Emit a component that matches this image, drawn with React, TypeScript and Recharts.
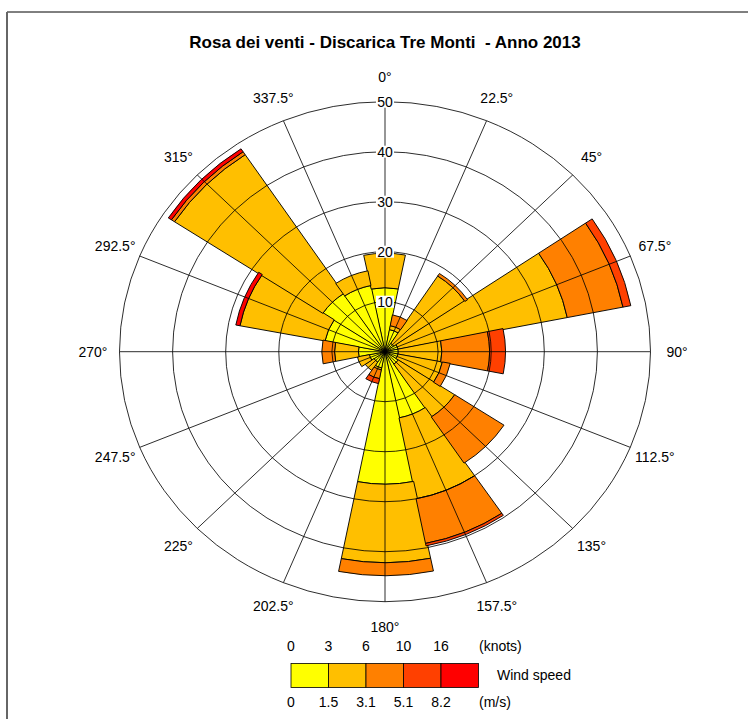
import React from 'react';
import { RadialBarChart, RadialBar, PolarGrid, PolarAngleAxis, PolarRadiusAxis, Sector } from 'recharts';

// ---- data ----
const directions = [0, 22.5, 45, 67.5, 90, 112.5, 135, 157.5, 180, 202.5, 225, 247.5, 270, 292.5, 315, 337.5];
const speedKeys = ['s0', 's1', 's2', 's3', 's4'];
const speedColors = ['#FFFF00', '#FFBF00', '#FF8000', '#FF4000', '#FF0000'];
// frequency (%) per speed class, stacked
const class0 = [12.8, 4.5, 2, 2.5, 2.5, 2.5, 3, 13.5, 26.5, 3.3, 2.5, 3, 5, 11.5, 14, 13.5];
const class1 = [6.9, 0.8, 16.1, 32.5, 8.2, 8.5, 12.7, 16.5, 15.7, 0.4, 2, 2.3, 4.5, 16.3, 33.4, 3];
const class2 = [0, 2.2, 0.6, 10.7, 9, 1.5, 11.1, 9.1, 2.6, 1.8, 0, 0, 2.4, 0, 0.7, 0];
const class3 = [0, 0, 0, 1.5, 3, 0, 0, 0.5, 0, 1.0, 0, 0, 0, 0, 0, 0];
const class4 = [0, 0, 0, 0, 0, 0, 0, 0, 0, 0, 0, 0, 0, 0.8, 0.7, 0];
const radiusTicks = [10, 20, 30, 40, 50];
const knotsTicks = ['0', '3', '6', '10', '16'];
const msTicks = ['0', '1.5', '3.1', '5.1', '8.2'];
const title = 'Rosa dei venti - Discarica Tre Monti  - Anno 2013';

const classes = [class0, class1, class2, class3, class4];
const data = directions.map((angle, i) => {
  const row: Record<string, any> = { angle };
  speedKeys.forEach((k, j) => { row[k] = classes[j][i]; });
  return row;
});

const SX = 1.062;
const CX = 385;
const CY = 351.7;
const FONT = '"Liberation Sans", Arial, Helvetica, sans-serif';

const AngleTick = (props: any) => {
  const { x, y, payload } = props;
  return (
    <text transform={`translate(${x},${y}) scale(${1 / SX},1)`} x={0} y={0} textAnchor="middle" dominantBaseline="central" fontSize={14} fontFamily={FONT} fill="#000">
      {`${payload.value}°`}
    </text>
  );
};

const RadiusTick = (props: any) => {
  const { x, y, payload } = props;
  return (
    <g transform={`translate(${x},${y}) scale(${1 / SX},1)`}>
      <rect x={-9} y={-6} width={18} height={12} fill="#fff" />
      <text x={0} y={0} textAnchor="middle" dominantBaseline="central" fontSize={14} fontFamily={FONT} fill="#000">
        {payload.value}
      </text>
    </g>
  );
};

// skip empty speed classes so they do not draw a doubled outline
const makeShape = (key: string) => (p: any) => {
  if (!p || !p.payload || !(p.payload[key] > 0)) return <g />;
  return (
    <Sector
      cx={p.cx}
      cy={p.cy}
      innerRadius={p.innerRadius}
      outerRadius={p.outerRadius}
      startAngle={p.startAngle}
      endAngle={p.endAngle}
      fill={p.fill}
      stroke="#000"
      strokeWidth={0.9}
    />
  );
};

const chartProps = {
  width: 750,
  height: 719,
  data,
  layout: 'centric' as const,
  cx: CX,
  cy: CY,
  innerRadius: 0,
  outerRadius: 250,
  startAngle: 90,
  endAngle: -270,
  barCategoryGap: 0,
  margin: { top: 0, right: 0, bottom: 0, left: 0 },
};

const layerStyle: React.CSSProperties = {
  position: 'absolute',
  left: 0,
  top: 0,
  width: 750,
  height: 719,
  transform: `scaleX(${SX})`,
  transformOrigin: `${CX}px ${CY}px`,
};

export default function App() {
  const boxX0 = 291;
  const boxW = 37.5;
  return (
    <div style={{ position: 'absolute', left: 0, top: 0, width: 750, height: 719, background: '#fff', overflow: 'hidden' }}>
      {/* bars */}
      <div style={layerStyle}>
        <RadialBarChart {...chartProps}>
          <PolarAngleAxis dataKey="angle" type="number" domain={[0, 360]} ticks={directions} tick={false} tickLine={false} axisLine={false} />
          <PolarRadiusAxis type="number" domain={[0, 50]} ticks={radiusTicks} angle={90} axisLine={false} tick={false} />
          {speedKeys.map((k, j) => (
            <RadialBar key={k} dataKey={k} stackId="w" fill={speedColors[j]} stroke="#000" strokeWidth={0.9} shape={makeShape(k)} isAnimationActive={false} />
          ))}
        </RadialBarChart>
      </div>
      {/* grid and labels drawn over the bars */}
      <div style={{ ...layerStyle, pointerEvents: 'none' }}>
        <RadialBarChart {...chartProps}>
          <PolarGrid gridType="circle" stroke="#000" strokeWidth={0.8} />
          <PolarAngleAxis dataKey="angle" type="number" domain={[0, 360]} ticks={directions} tick={(p: any) => <AngleTick {...p} />} tickLine={false} axisLine={false} tickSize={25} />
          <PolarRadiusAxis type="number" domain={[0, 50]} ticks={radiusTicks} angle={90} axisLine={false} tick={(p: any) => <RadiusTick {...p} />} />
          <RadialBar dataKey="s0" fill="none" stroke="none" isAnimationActive={false} />
        </RadialBarChart>
      </div>
      <svg width={750} height={719} style={{ position: 'absolute', left: 0, top: 0, pointerEvents: 'none' }}>
        <line x1={7} y1={12} x2={748} y2={12} stroke="#000" strokeWidth={1} />
        <line x1={7} y1={12} x2={7} y2={719} stroke="#666" strokeWidth={2} />
        <text x={385} y={42} textAnchor="middle" dominantBaseline="central" fontSize={17} fontWeight="bold" fontFamily={FONT} fill="#000" style={{ whiteSpace: 'pre' }}>{title}</text>
        {knotsTicks.map((t, i) => (
          <text key={'k' + i} x={boxX0 + i * boxW} y={646} textAnchor="middle" dominantBaseline="central" fontSize={14} fontFamily={FONT}>{t}</text>
        ))}
        <text x={479} y={646} dominantBaseline="central" fontSize={14} fontFamily={FONT}>(knots)</text>
        {speedColors.map((c, i) => (
          <rect key={'c' + i} x={boxX0 + i * boxW} y={663.5} width={boxW} height={24} fill={c} stroke="#000" strokeWidth={0.8} />
        ))}
        <text x={497} y={675} dominantBaseline="central" fontSize={14} fontFamily={FONT}>Wind speed</text>
        {msTicks.map((t, i) => (
          <text key={'m' + i} x={boxX0 + i * boxW} y={702} textAnchor="middle" dominantBaseline="central" fontSize={14} fontFamily={FONT}>{t}</text>
        ))}
        <text x={479} y={702} dominantBaseline="central" fontSize={14} fontFamily={FONT}>(m/s)</text>
      </svg>
    </div>
  );
}
